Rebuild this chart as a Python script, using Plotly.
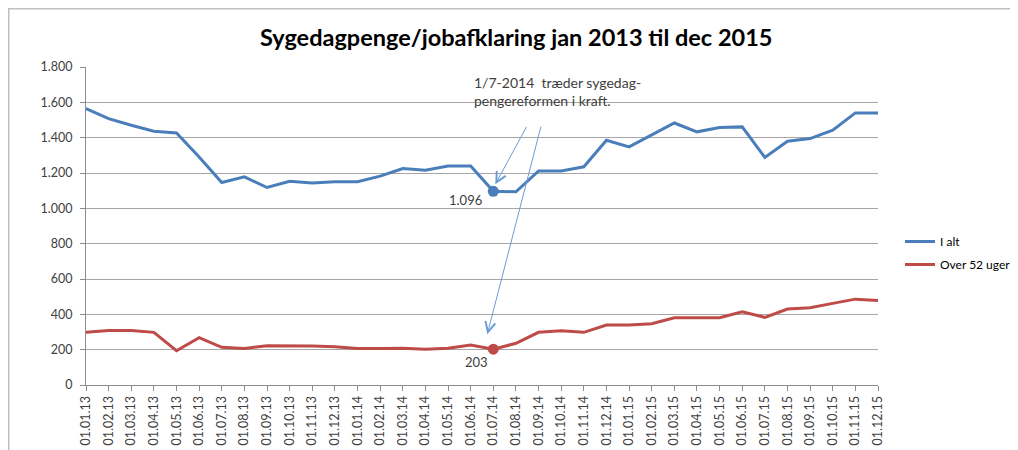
import plotly.graph_objects as go

months = [f"01.{m:02d}.{y}" for y in ("13", "14", "15") for m in range(1, 13)]
i_alt = [1565, 1508, 1470, 1436, 1427, 1291, 1146, 1178, 1118, 1153, 1144, 1150,
         1150, 1182, 1225, 1216, 1240, 1240, 1096, 1094, 1212, 1212, 1235, 1385,
         1348, 1414, 1483, 1433, 1457, 1461, 1288, 1380, 1395, 1442, 1540, 1540]
over52 = [298, 309, 309, 298, 194, 268, 213, 207, 222, 222, 221, 217,
          207, 207, 208, 202, 208, 226, 203, 236, 298, 307, 298, 339,
          339, 347, 381, 381, 381, 415, 383, 430, 437, 462, 486, 479]
title = "Sygedagpenge/jobafklaring jan 2013 til dec 2015"
note = "1/7-2014  træder sygedag-<br>pengereformen i kraft."
label_i_alt = "1.096"
label_over52 = "203"
hl = 18  # 01.07.14

BLUE = "#4a7ebb"
RED = "#be4b48"
TXT = "#404040"
ARROW = "#6b9bd6"
FONT = "Lato"

OFF = 8  # page body margin
W, H = 1018 - OFF, 450 - OFF
PL, PR, PT, PB = 86, 878, 67, 385  # plot area in page pixels


def px(x):
    return (x - PL) / (PR - PL)


def py(y):
    return (PB - y) / (PB - PT)


fig = go.Figure()
fig.add_trace(go.Scatter(x=months, y=i_alt, mode="lines", name="I alt", legendgroup="a",
                         line=dict(color=BLUE, width=3)))
fig.add_trace(go.Scatter(x=months, y=over52, mode="lines", name="Over 52 uger", legendgroup="b",
                         line=dict(color=RED, width=3)))
fig.add_trace(go.Scatter(x=[months[hl]], y=[i_alt[hl]], mode="markers", showlegend=False,
                         marker=dict(color=BLUE, size=11)))
fig.add_trace(go.Scatter(x=[months[hl]], y=[over52[hl]], mode="markers", showlegend=False,
                         marker=dict(color=RED, size=11)))

ann = [
    dict(x=months[hl], y=i_alt[hl], xref="x", yref="y", text=label_i_alt,
         showarrow=False, xshift=-28, yshift=-9, font=dict(size=13, color=TXT, family=FONT)),
    dict(x=months[hl], y=over52[hl], xref="x", yref="y", text=label_over52,
         showarrow=False, xshift=-17, yshift=-13, font=dict(size=13, color=TXT, family=FONT)),
    dict(x=px(472), y=py(91.5), xref="paper", yref="paper", text=note, align="left",
         xanchor="left", yanchor="middle", showarrow=False,
         font=dict(size=14, color=TXT, family=FONT)),
    dict(x=months[hl], y=i_alt[hl], xref="x", yref="y", xshift=2, yshift=7,
         ax=32, ay=-59, showarrow=True, arrowhead=5, arrowsize=2,
         arrowwidth=1, arrowcolor=ARROW, standoff=0, text=""),
    dict(x=months[hl], y=over52[hl], xref="x", yref="y", xshift=-6, yshift=15,
         ax=54, ay=-209, showarrow=True, arrowhead=5, arrowsize=2,
         arrowwidth=1, arrowcolor=ARROW, standoff=0, text=""),
    dict(x=px(516), y=py(37), xref="paper", yref="paper", text=f"<b>{title}</b>",
         showarrow=False, xanchor="center", yanchor="middle",
         font=dict(size=23.5, color="#000000", family=FONT)),
]

fig.update_layout(
    width=W, height=H,
    margin=dict(l=PL - OFF, r=W - (PR - OFF), t=PT - OFF, b=H - (PB - OFF), autoexpand=False),
    paper_bgcolor="white", plot_bgcolor="white",
    separators=",.",
    font=dict(family=FONT, size=12, color=TXT),
    showlegend=True,
    legend=dict(xref="container", yref="container",
                x=(900 - OFF) / W, y=1 - (227 - OFF) / H, xanchor="left", yanchor="top",
                font=dict(size=12, color="#000000", family=FONT),
                itemwidth=30, tracegroupgap=4, bgcolor="rgba(0,0,0,0)"),
    annotations=ann,
    shapes=[dict(type="rect", xref="paper", yref="paper", x0=px(8.5), y0=py(470),
                 x1=px(1040), y1=py(8.5), line=dict(color="#bfbfbf", width=2), layer="below")],
    xaxis=dict(type="category", range=[0, len(months) - 1], tickangle=-90, automargin=False,
               showgrid=False, showline=True, linecolor="#8c8c8c", linewidth=1,
               ticks="outside", ticklen=5, tickcolor="#8c8c8c",
               tickfont=dict(size=12.5, color=TXT, family=FONT)),
    yaxis=dict(range=[0, 1800], dtick=200, tickformat=",d", automargin=False,
               showgrid=True, gridcolor="#a6a6a6", gridwidth=1,
               showline=True, linecolor="#8c8c8c", linewidth=1,
               ticks="outside", ticklen=5, tickcolor="#8c8c8c", ticklabelstandoff=5,
               tickfont=dict(size=12.5, color=TXT, family=FONT), zeroline=False),
)

fig.write_html("out.html")
